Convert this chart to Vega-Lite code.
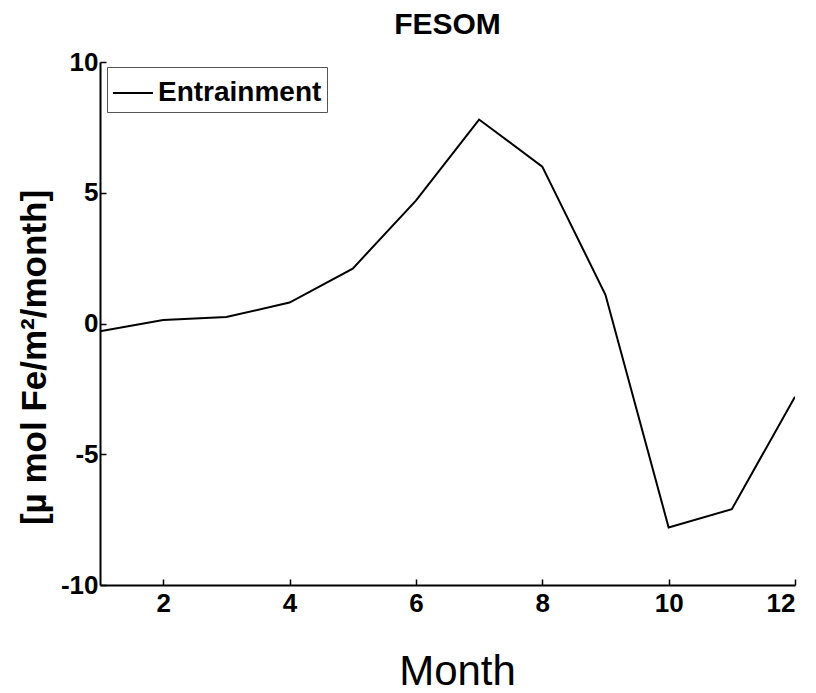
{
  "$schema": "https://vega.github.io/schema/vega-lite/v6.json",
  "width": 695,
  "height": 523,
  "autosize": {"type": "none"},
  "padding": {"left": 100, "top": 62, "right": 21, "bottom": 108},
  "background": "white",
  "title": {
    "text": "FESOM",
    "anchor": "middle",
    "offset": 9
  },
  "data": {
    "values": [
      {"month": 1, "value": -0.3, "series": "Entrainment"},
      {"month": 2, "value": 0.13, "series": "Entrainment"},
      {"month": 3, "value": 0.25, "series": "Entrainment"},
      {"month": 4, "value": 0.8, "series": "Entrainment"},
      {"month": 5, "value": 2.1, "series": "Entrainment"},
      {"month": 6, "value": 4.7, "series": "Entrainment"},
      {"month": 7, "value": 7.8, "series": "Entrainment"},
      {"month": 8, "value": 6.0, "series": "Entrainment"},
      {"month": 9, "value": 1.1, "series": "Entrainment"},
      {"month": 10, "value": -7.8, "series": "Entrainment"},
      {"month": 11, "value": -7.1, "series": "Entrainment"},
      {"month": 12, "value": -2.8, "series": "Entrainment"}
    ]
  },
  "mark": {"type": "line", "strokeWidth": 2, "clip": true},
  "encoding": {
    "x": {
      "field": "month",
      "type": "quantitative",
      "scale": {"domain": [1, 12], "nice": false, "zero": false},
      "axis": {
        "title": "Month",
        "values": [2, 4, 6, 8, 10, 12],
        "labelExpr": "'' + datum.value",
        "grid": false,
        "domainColor": "black",
        "domainWidth": 2,
        "tickColor": "black",
        "tickWidth": 1.5,
        "tickSize": -6,
        "labelFont": "Liberation Sans",
        "labelFontSize": 26,
        "labelFontWeight": "bold",
        "labelColor": "black",
        "labelPadding": 11,
        "titleFont": "Liberation Sans",
        "titleFontSize": 42,
        "titleFontWeight": "normal",
        "titleColor": "black",
        "titleBaseline": "alphabetic",
        "titleY": 99,
        "titleX": 357
      }
    },
    "y": {
      "field": "value",
      "type": "quantitative",
      "scale": {"domain": [-10, 10], "nice": false, "zero": false},
      "axis": {
        "title": "[µ mol Fe/m²/month]",
        "values": [-10, -5, 0, 5, 10],
        "labelExpr": "'' + datum.value",
        "grid": false,
        "domainColor": "black",
        "domainWidth": 2,
        "tickColor": "black",
        "tickWidth": 1.5,
        "tickSize": -6,
        "labelFont": "Liberation Sans",
        "labelFontSize": 26,
        "labelFontWeight": "bold",
        "labelColor": "black",
        "labelPadding": 8,
        "titleFont": "Liberation Sans",
        "titleFontSize": 35,
        "titleFontWeight": "bold",
        "titleColor": "black",
        "titleAlign": "center",
        "titleBaseline": "middle",
        "titleX": -66,
        "titleY": 295
      }
    },
    "color": {
      "field": "series",
      "type": "nominal",
      "scale": {"range": ["black"]},
      "legend": {
        "title": null,
        "orient": "none",
        "legendX": 7,
        "legendY": 5,
        "strokeColor": "#555",
        "fillColor": "white",
        "padding": 5,
        "symbolType": "stroke",
        "symbolSize": 1600,
        "symbolStrokeWidth": 2,
        "labelFont": "Liberation Sans",
        "labelFontSize": 28,
        "labelFontWeight": "bold",
        "labelColor": "black",
        "labelOffset": 4,
        "labelLimit": 0
      }
    }
  },
  "config": {
    "view": {"stroke": null},
    "title": {"font": "Liberation Sans", "fontSize": 30, "fontWeight": "bold", "color": "black"}
  }
}
